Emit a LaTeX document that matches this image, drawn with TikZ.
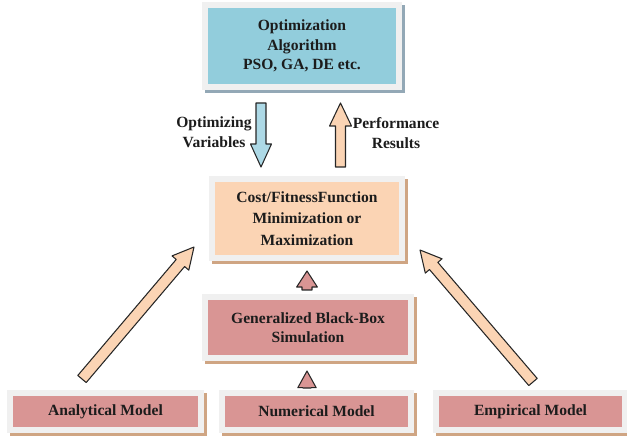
\documentclass[tikz,border=0pt]{standalone}
\usepackage{fontspec}
\setmainfont{Liberation Serif}
\newfontfamily\boxfont{Liberation Serif}
\usetikzlibrary{calc}

\definecolor{optblue}{HTML}{92CDDC}
\definecolor{peach}{HTML}{FBD4B4}
\definecolor{rose}{HTML}{D99594}
\definecolor{framegray}{HTML}{F0F0F0}
\definecolor{blueshade}{HTML}{93A8B6}
\definecolor{tanshade}{HTML}{CFA583}
\definecolor{arrowblue}{HTML}{ADD9E6}
\definecolor{txt}{HTML}{1C1C1C}

% block arrow: style, tail, tip, shaft half width, head half width, head length
\newcommand{\blockarrow}[6]{%
  \coordinate (ah) at ($(#3)!#6!(#2)$);
  \draw[#1] ($(#2)!#4!90:(#3)$) -- ($(ah)!#4!-90:(#2)$) -- ($(ah)!#5!-90:(#2)$) -- (#3)
    -- ($(ah)!#5!90:(#2)$) -- ($(ah)!#4!90:(#2)$) -- ($(#2)!#4!-90:(#3)$) -- cycle;
}

\begin{document}
\begin{tikzpicture}[x=0.3mm, y=0.3mm,
    panel/.style={draw=framegray, line width=1.8mm, align=center, inner sep=0pt,
      font=\boxfont\fontsize{13.3}{16.5}\selectfont\bfseries, text=txt,
      preaction={draw=#1, fill=#1, line width=1.8mm,
        transform canvas={shift={(0.9mm,-0.9mm)}}}},
    lbl/.style={align=center, font=\boxfont\fontsize{13.3}{17}\selectfont\bfseries, text=txt},
    fat/.style={draw=black!85, line width=0.9pt, line join=round, fill=#1}]
    \useasboundingbox (0,0) rectangle (627,438);

    % boxes
    \node[panel=blueshade, fill=optblue, minimum width=58.2mm, minimum height=24.6mm]
        (opt) at (302,392) {Optimization\\Algorithm\\PSO, GA, DE etc.};
    \node[panel=tanshade, fill=peach, minimum width=57mm, minimum height=23.7mm,
        font=\boxfont\fontsize{13.3}{18.3}\selectfont\bfseries]
        (cost) at (307,219.5) {Cost/FitnessFunction\\Minimization or\\Maximization};
    \node[panel=tanshade, fill=rose, minimum width=61.8mm, minimum height=18.3mm]
        (sim) at (308,110.5) {Generalized Black-Box\\Simulation};
    \node[panel=tanshade, fill=rose, minimum width=57.3mm, minimum height=11.1mm]
        (ana) at (105.5,26.5) {Analytical Model};
    \node[panel=tanshade, fill=rose, minimum width=56.7mm, minimum height=11.1mm]
        (num) at (316.5,26.5) {Numerical Model};
    \node[panel=tanshade, fill=rose, minimum width=56.7mm, minimum height=11.1mm]
        (emp) at (530.5,26.5) {Empirical Model};

    % arrow ends
    \coordinate (dn1) at ($(opt.south)+(-41,-13)$);
    \coordinate (dn2) at ($(cost.north)+(-46,9)$);
    \coordinate (up1) at ($(cost.north)+(33.5,9)$);
    \coordinate (up2) at ($(opt.south)+(38.5,-13)$);
    \coordinate (s1) at ($(sim.north)+(-1,4)$);
    \coordinate (s2) at ($(cost.south)+(0,-10)$);
    \coordinate (n1) at ($(num.north)+(-9.5,2)$);
    \coordinate (n2) at ($(sim.south)+(-1,-10)$);
    \coordinate (a1) at ($(ana.north)+(-23.5,11)$);
    \coordinate (a2) at ($(cost.south west)+(-15,14)$);
    \coordinate (e1) at ($(emp.north)+(2.5,8)$);
    \coordinate (e2) at ($(cost.south east)+(15,11)$);

    \blockarrow{fat=arrowblue}{dn1}{dn2}{1.5mm}{3.15mm}{6.9mm}
    \blockarrow{fat=peach}{up1}{up2}{1.5mm}{3.3mm}{6.9mm}
    \blockarrow{fat=rose}{s1}{s2}{1.5mm}{3.1mm}{4.8mm}
    \blockarrow{fat=rose}{n1}{n2}{1.25mm}{2.75mm}{5mm}
    \blockarrow{fat=peach}{a1}{a2}{1.65mm}{3.3mm}{6.3mm}
    \blockarrow{fat=peach}{e1}{e2}{1.65mm}{3.3mm}{6.3mm}

    % arrow labels
    \node[lbl] (optvar) at (214,306) {Optimizing\\Variables};
    \node[lbl] (perfres) at (396,305) {Performance\\Results};
\end{tikzpicture}
\end{document}
